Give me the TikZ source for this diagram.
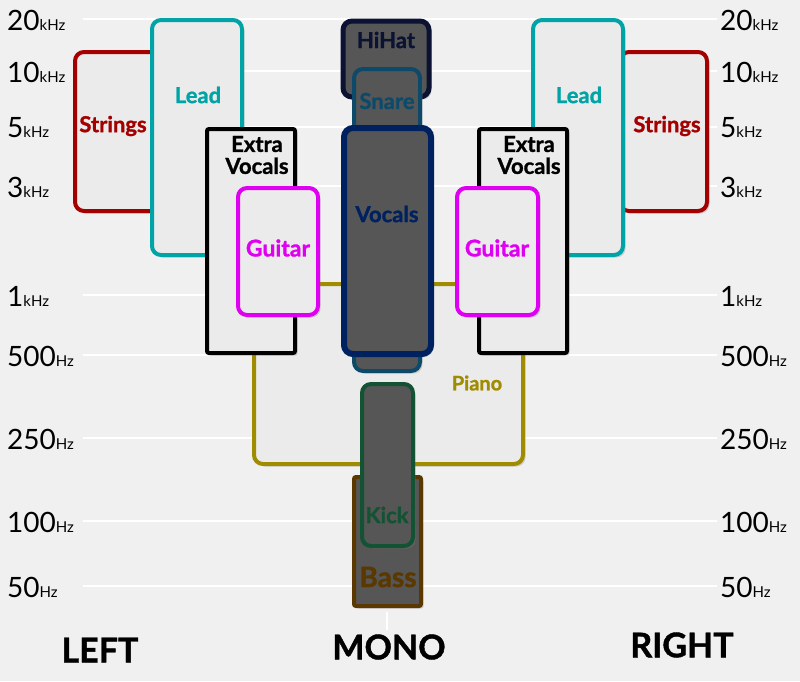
\documentclass[tikz,border=0pt]{standalone}
\usepackage{fontspec}
\setmainfont{Lato}
\newfontfamily\heavy[BoldFeatures={FakeBold=1.2}]{Lato}
\usetikzlibrary{shadows}

\definecolor{bg}{HTML}{F0F0F0}
\definecolor{boxlite}{HTML}{EBEBEB}
\definecolor{boxdark}{HTML}{565656}
\definecolor{strred}{HTML}{A50000}
\definecolor{leadteal}{HTML}{00A4A6}
\definecolor{guitmag}{HTML}{DF00F2}
\definecolor{pianoyel}{HTML}{A08C00}
\definecolor{hihatblue}{HTML}{0B1232}
\definecolor{snareblue}{HTML}{0D4A6A}
\definecolor{vocblue}{HTML}{00215F}
\definecolor{kickgreen}{HTML}{145234}
\definecolor{bassbrown}{HTML}{5A3800}

\tikzset{
  band/.style={line width=4pt, rounded corners=9pt,
    drop shadow={shadow xshift=2.5pt,shadow yshift=-2.5pt,opacity=.3}},
  lite/.style={band, fill=boxlite},
  dark/.style={band, fill=boxdark},
  grid/.style={white, line width=2pt},
  lbl/.style={font=\heavy\bfseries\fontsize{22}{22}\selectfont, inner sep=0pt, align=center},
  freq/.style={font=\fontsize{28}{28}\selectfont, inner sep=0pt, anchor=west},
  side/.style={font=\heavy\bfseries\fontsize{34}{34}\selectfont, inner sep=0pt}
}
\newcommand{\hzunit}[1]{{\fontsize{15}{15}\selectfont #1}}

\begin{document}
\begin{tikzpicture}[x=1pt,y=-1pt]
\fill[bg] (0,0) rectangle (800,681);
\useasboundingbox (0,0) rectangle (800,681);

% frequency grid
\foreach \yy/\num/\hz in {19/20/kHz,71/10/kHz,127/5/kHz,186/3/kHz,295/1/kHz,
                          355/500/Hz,438/250/Hz,521/100/Hz,586/50/Hz}{
  \draw[grid] (83,\yy) -- (717,\yy);
  \node[freq] (fl\num) at (7,\yy+1) {\num\hzunit{\hz}};
  \node[freq] (fr\num) at (720,\yy+1) {\num\hzunit{\hz}};
}
\draw[grid] (387,612) -- (387,630);

% piano
\draw[lite, draw=pianoyel] (254,284) rectangle (523,464);

% left side
\draw[lite, draw=strred] (75,52) rectangle (160,211);
\draw[lite, draw=leadteal] (152,20) rectangle (242,255);
\draw[lite, draw=black, rounded corners=2pt] (207,129) rectangle (295,353);
\draw[lite, draw=guitmag] (238,188) rectangle (318,315);

% right side
\draw[lite, draw=strred] (620,52) rectangle (707,211);
\draw[lite, draw=leadteal] (533,20) rectangle (623,255);
\draw[lite, draw=black, rounded corners=2pt] (479,129) rectangle (567,353);
\draw[lite, draw=guitmag] (457,188) rectangle (538,315);

% centre (mono)
\draw[dark, draw=hihatblue, line width=5pt] (343,21) rectangle (429,97);
\draw[dark, draw=snareblue] (354,69) rectangle (420,371);
\draw[dark, draw=vocblue, line width=6pt] (344,128) rectangle (431,354);
\draw[dark, draw=bassbrown, rounded corners=2pt] (354,477) rectangle (421,606);
\draw[dark, draw=kickgreen] (362,384) rectangle (413,546);

% labels
\node[lbl, text=strred] (strL) at (113,126) {Strings};
\node[lbl, text=leadteal] (leadL) at (198,95) {Lead};
\node[lbl] (xvocL) at (257,155) {Extra\\Vocals};
\node[lbl, text=guitmag, font=\heavy\bfseries\fontsize{23}{23}\selectfont] (guitL) at (278,248) {Guitar};

\node[lbl, text=strred] (strR) at (667,126) {Strings};
\node[lbl, text=leadteal] (leadR) at (579,95) {Lead};
\node[lbl] (xvocR) at (529,155) {Extra\\Vocals};
\node[lbl, text=guitmag, font=\heavy\bfseries\fontsize{23}{23}\selectfont] (guitR) at (497,248) {Guitar};

\node[lbl, text=hihatblue] (hihat) at (386,40) {HiHat};
\node[lbl, text=snareblue] (snare) at (387,101) {Snare};
\node[lbl, text=vocblue] (vocals) at (387,214) {Vocals};
\node[lbl, text=pianoyel, font=\heavy\bfseries\fontsize{20}{20}\selectfont] (piano) at (477,383) {Piano};
\node[lbl, text=kickgreen] (kick) at (387,515) {Kick};
\node[lbl, text=bassbrown, font=\heavy\bfseries\fontsize{28}{28}\selectfont] (bass) at (388,577) {Bass};

\node[side] (lefttag) at (100,650) {LEFT};
\node[side] (monotag) at (389,647) {MONO};
\node[side] (righttag) at (682,645) {RIGHT};

\end{tikzpicture}
\end{document}
